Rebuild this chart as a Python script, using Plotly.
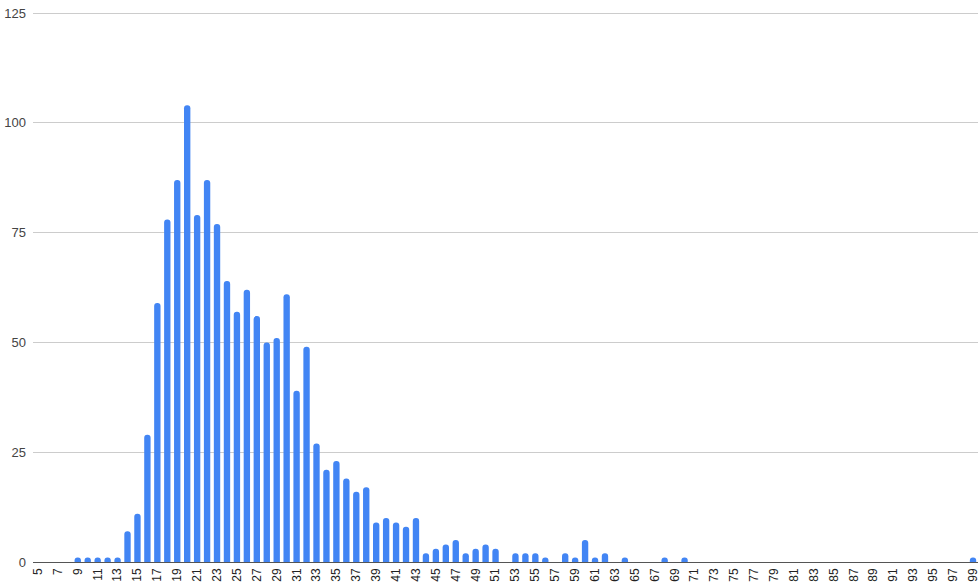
import plotly.graph_objects as go

# Categories (x values) and counts
categories = list(range(5, 100))
counts = [
    0, 0, 0, 0, 1, 1, 1, 1, 1, 7,      # 5-14
    11, 29, 59, 78, 87, 104, 79, 87, 77, 64,   # 15-24
    57, 62, 56, 50, 51, 61, 39, 49, 27, 21,    # 25-34
    23, 19, 16, 17, 9, 10, 9, 8, 10, 2,        # 35-44
    3, 4, 5, 2, 3, 4, 3, 0, 2, 2,              # 45-54
    2, 1, 0, 2, 1, 5, 1, 2, 0, 1,              # 55-64
    0, 0, 0, 1, 0, 1, 0, 0, 0, 0,              # 65-74
    0, 0, 0, 0, 0, 0, 0, 0, 0, 0,              # 75-84
    0, 0, 0, 0, 0, 0, 0, 0, 0, 0,              # 85-94
    0, 0, 0, 0, 1,                             # 95-99
]
x_tick_values = categories[::2]
y_tick_values = [0, 25, 50, 75, 100, 125]

fig = go.Figure(
    go.Bar(
        x=categories,
        y=counts,
        marker=dict(color="#4285F4", line=dict(width=0), cornerradius=3),
    )
)

fig.update_layout(
    width=980,
    height=588,
    margin=dict(l=33, r=2, t=12, b=26, autoexpand=False),
    paper_bgcolor="white",
    plot_bgcolor="white",
    bargap=0.36,
    showlegend=False,
    font=dict(family="Arial, Liberation Sans, sans-serif", size=12, color="#222222"),
)

fig.update_xaxes(
    range=[4.5, 99.5],
    tickmode="array",
    tickvals=x_tick_values,
    ticktext=[str(v) for v in x_tick_values],
    tickangle=-90,
    tickfont=dict(size=12, color="#222222"),
    showgrid=False,
    zeroline=False,
    showline=False,
    ticks="",
    ticklabelstandoff=3,
    automargin=False,
)

fig.update_yaxes(
    range=[0, 125.25],
    tickmode="array",
    tickvals=y_tick_values,
    tickfont=dict(size=13, color="#444444"),
    showgrid=True,
    gridcolor="#cccccc",
    gridwidth=1,
    zeroline=True,
    zerolinecolor="#555555",
    zerolinewidth=1,
    showline=False,
    ticks="",
    ticklabelstandoff=6,
    automargin=False,
)

fig.write_html(
    "out.html",
    config={"displayModeBar": False},
    post_script="document.body.style.margin='0';document.body.style.overflow='hidden';",
)
